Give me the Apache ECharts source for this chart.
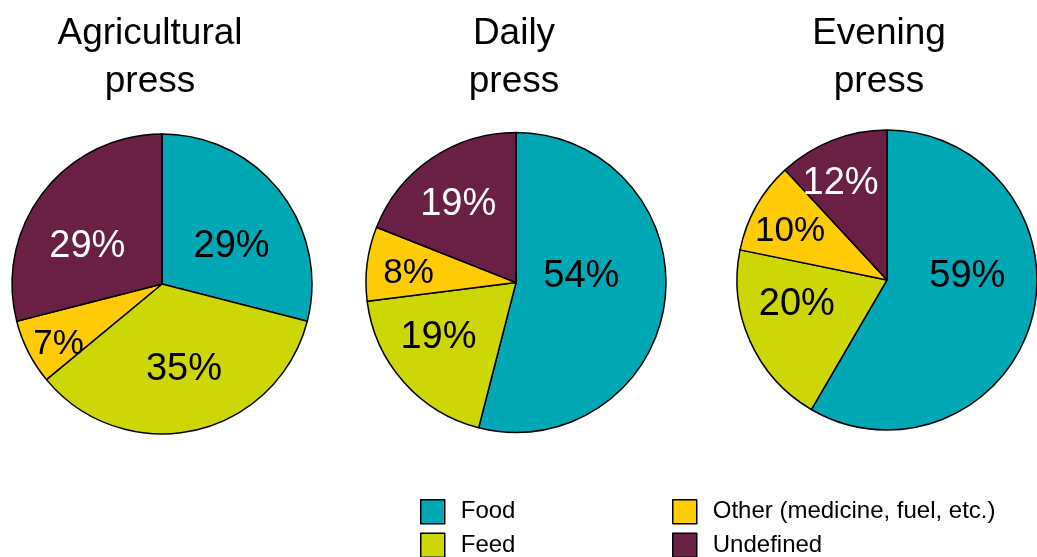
<!DOCTYPE html>
<html>
<head>
<meta charset="utf-8">
<script src="https://cdn.jsdelivr.net/npm/echarts@6/dist/echarts.min.js"></script>
<style>
html,body{margin:0;padding:0;background:#fff;}
#chart{width:1037px;height:557px;}
</style>
</head>
<body>
<div id="chart"></div>
<script>
const categories = ['Food', 'Feed', 'Other (medicine, fuel, etc.)', 'Undefined'];
const pressTitles = ['Agricultural\npress', 'Daily\npress', 'Evening\npress'];
const agriculturalValues = [29, 35, 7, 29];
const dailyValues = [54, 19, 8, 19];
const eveningValues = [59, 20, 10, 12];

const colors = ['#00A8B6', '#CDD705', '#FFCB05', '#6A1F44'];
const labelColors = ['#000', '#000', '#000', '#fff'];
const FONT = '"Liberation Sans", Arial, Helvetica, sans-serif';

const pieCenters = [[162, 284], [516, 282.5], [887, 280]];
const titleX = [150, 514, 879];
// label nudges (styling) per slice, relative to default inside position
const labelNudges = [
  [[8, 10], [5, 9], [-34, 25], [-13, 10]],
  [[-12, -16], [-19, 3], [-30, 1], [-14, -13]],
  [[5, -24], [-19, -7], [-29, -10], [-18, -24]]
];
const allValues = [agriculturalValues, dailyValues, eveningValues];

const chart = echarts.init(document.getElementById('chart'), null, {renderer: 'canvas'});

const series = allValues.map((vals, s) => ({
  type: 'pie',
  name: pressTitles[s].replace('\n', ' '),
  center: pieCenters[s],
  radius: [0, 150],
  startAngle: 90,
  clockwise: true,
  avoidLabelOverlap: false,
  animation: false,
  emphasis: {disabled: true},
  itemStyle: {borderColor: '#000', borderWidth: 1.5},
  label: {
    show: true,
    position: 'inside',
    fontFamily: FONT,
    fontSize: 38,
    formatter: p => p.value + '%'
  },
  labelLine: {show: false},
  labelLayout: function (params) {
    const o = labelNudges[s][params.dataIndex];
    return {dx: o[0], dy: o[1]};
  },
  data: vals.map((v, i) => ({
    name: categories[i],
    value: v,
    itemStyle: {color: colors[i]},
    label: {color: labelColors[i], fontSize: i === 2 ? 35 : 38}
  }))
}));

const legendCommon = {
  orient: 'vertical',
  top: 499,
  height: 120,
  itemWidth: 24,
  itemHeight: 24,
  itemGap: 8,
  padding: 0,
  icon: 'rect',
  selectedMode: false,
  itemStyle: {borderColor: '#000', borderWidth: 1.5},
  textStyle: {fontFamily: FONT, fontSize: 24, lineHeight: 24, color: '#000', padding: [0, 0, 0, 11]}
};

chart.setOption({
  backgroundColor: '#fff',
  animation: false,
  title: pressTitles.map((t, i) => ({
    text: t,
    left: titleX[i],
    top: 10,
    padding: 0,
    textAlign: 'center',
    textStyle: {fontFamily: FONT, fontSize: 37, fontWeight: 'normal', color: '#000', lineHeight: 48}
  })),
  legend: [
    Object.assign({}, legendCommon, {left: 420, data: [categories[0], categories[1]]}),
    Object.assign({}, legendCommon, {left: 672, data: [categories[2], categories[3]]})
  ],
  series: series
});
</script>
</body>
</html>
